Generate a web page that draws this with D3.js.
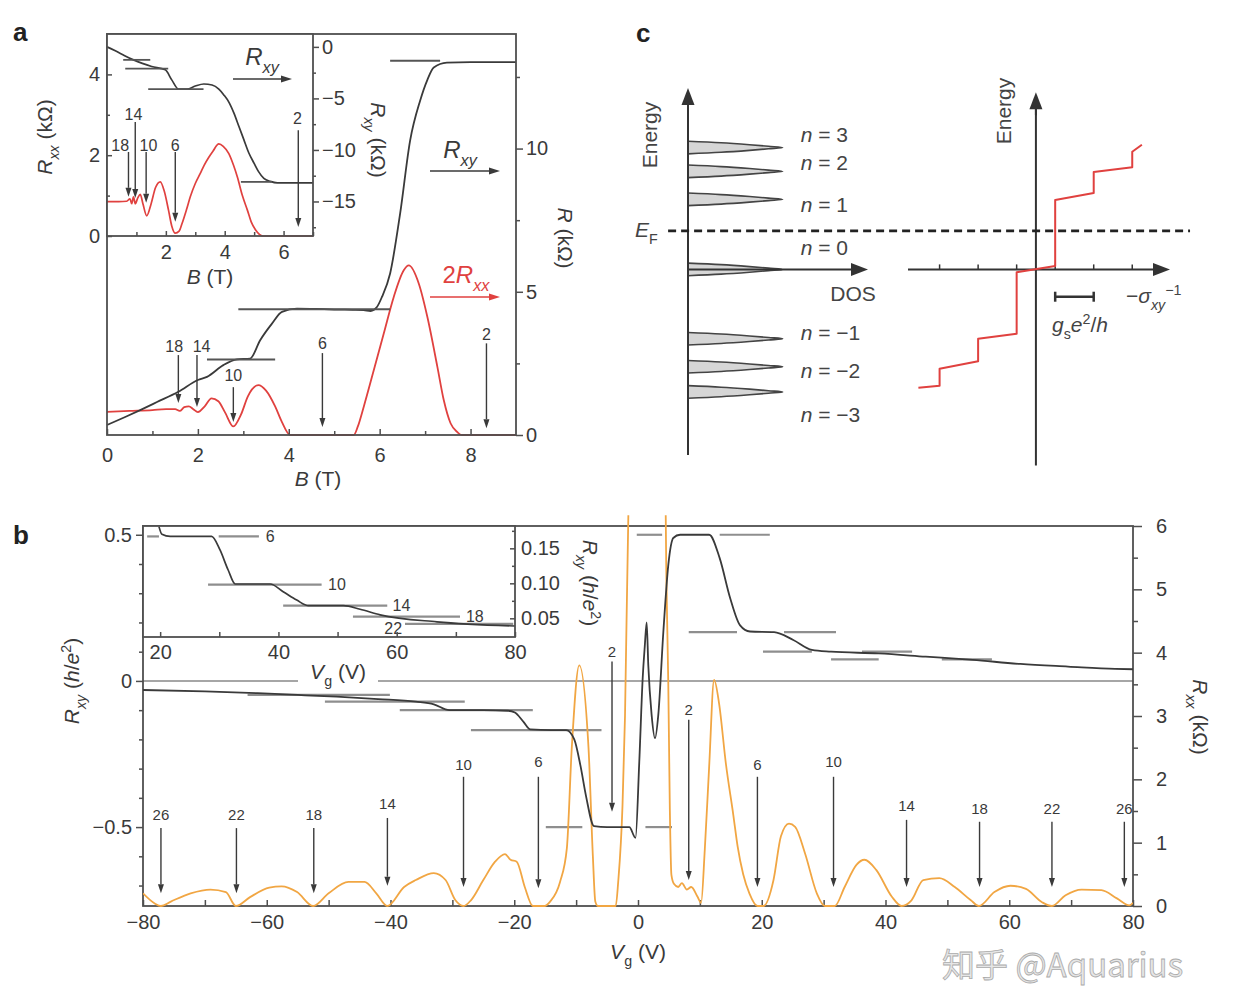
<!DOCTYPE html>
<html>
<head>
<meta charset="utf-8">
<title>Graphene quantum Hall</title>
<script src="https://cdn.jsdelivr.net/npm/d3@7/dist/d3.min.js"></script>
<style>
  html, body { margin: 0; padding: 0; background: #fff; }
  svg { display: block; font-family: "Liberation Sans", Arial, Helvetica, sans-serif; }
</style>
</head>
<body>
<svg id="fig" width="1242" height="996"></svg>
<script>
// ---------------- panel a : R vs B ----------------
// main plot, R_xy (kOhm)
var aB_xy = [0, 0.4, 0.73, 1.1, 1.57, 2.0, 2.2, 2.56, 2.86, 3.15, 3.37, 3.63, 3.85, 4.18, 4.6, 5.0, 5.4, 5.65, 5.8, 5.94, 6.05, 6.23, 6.45, 6.67, 6.89, 7.05, 7.19, 7.48, 8.0, 8.5, 9.0];
var aRxy = [0.35, 0.63, 0.87, 1.15, 1.51, 1.92, 2.03, 2.44, 2.64, 2.67, 3.31, 3.89, 4.3, 4.41, 4.4, 4.38, 4.37, 4.36, 4.33, 4.47, 4.82, 5.64, 7.73, 10.28, 11.67, 12.4, 12.83, 13.0, 13.02, 13.02, 13.02];
// main plot, 2R_xx (kOhm)
var aB_xx = [0, 0.5, 1.0, 1.3, 1.5, 1.6, 1.7, 1.8, 1.9, 2.0, 2.15, 2.3, 2.45, 2.6, 2.78, 2.95, 3.1, 3.33, 3.5, 3.7, 3.85, 4.03, 4.5, 5.0, 5.43, 5.52, 5.65, 5.87, 6.09, 6.31, 6.53, 6.64, 6.86, 7.05, 7.27, 7.41, 7.56, 7.71, 7.8, 8.5, 9.0];
var a2Rxx = [0.81, 0.84, 0.87, 0.9, 0.9, 0.84, 0.97, 1.0, 0.9, 0.8, 1.0, 1.28, 1.18, 0.78, 0.3, 0.72, 1.35, 1.74, 1.55, 1.0, 0.45, 0, 0, 0, 0, 0.3, 0.99, 2.26, 3.54, 4.82, 5.75, 5.92, 5.29, 4.12, 2.38, 1.22, 0.41, 0.1, 0, 0, 0];
// plateau marks
var aMarkFrom = [2.2, 2.89, 6.23];
var aMarkTo = [3.7, 6.23, 7.33];
var aMarkR = [2.64, 4.39, 13.07];
// filling factor arrows
var aArrLabel = ["18", "14", "10", "6", "2"];
var aArrB = [1.57, 1.98, 2.78, 4.74, 8.35];
var aArrTxtB = [1.48, 2.08, 2.78, 4.74, 8.35];
var aArrTxt = [3.1, 3.1, 2.09, 3.21, 3.52];
var aArrTop = [2.79, 2.79, 1.67, 2.86, 3.2];
var aArrBot = [1.12, 0.98, 0.45, 0.28, 0.24];

// inset, R_xy (kOhm, negative)
var aiB_xy = [0, 0.3, 0.6, 0.9, 1.2, 1.52, 1.98, 2.2, 2.43, 2.72, 3.0, 3.29, 3.57, 3.8, 3.97, 4.15, 4.31, 4.48, 4.65, 4.82, 5.0, 5.15, 5.33, 5.55, 5.79, 6.2, 7.0];
var aiRxy = [0, -0.4, -0.85, -1.26, -1.6, -1.9, -2.23, -3.2, -4.1, -4.1, -3.8, -3.6, -3.7, -4.1, -4.66, -5.4, -6.4, -7.7, -9.0, -10.3, -11.3, -12.1, -12.75, -13.05, -13.2, -13.2, -13.2];
// inset, R_xx (kOhm)
var aiB_xx = [0, 0.4, 0.67, 0.78, 0.84, 0.9, 0.96, 1.05, 1.13, 1.22, 1.35, 1.5, 1.65, 1.81, 1.95, 2.09, 2.2, 2.32, 2.45, 2.55, 2.7, 2.83, 3.0, 3.17, 3.3, 3.46, 3.6, 3.8, 3.95, 4.14, 4.3, 4.43, 4.6, 4.77, 4.9, 5.05, 5.3, 6.0, 7.0];
var aiRxx = [0.85, 0.85, 0.86, 0.92, 0.8, 0.97, 0.8, 0.95, 1.03, 0.8, 0.5, 0.8, 1.2, 1.34, 1.1, 0.64, 0.25, 0.07, 0.12, 0.31, 0.65, 0.97, 1.3, 1.55, 1.75, 1.95, 2.1, 2.28, 2.22, 2.04, 1.75, 1.46, 1.0, 0.64, 0.35, 0.15, 0, 0, 0];
var aiMarkFrom = [0.55, 0.62, 1.4, 4.55];
var aiMarkTo = [1.47, 2.08, 3.28, 5.6];
var aiMarkR = [-1.26, -2.1, -4.1, -13.1];
var aiArrLabel = ["18", "14", "10", "6", "2"];
var aiArrB = [0.73, 0.96, 1.33, 2.32, 6.5];
var aiArrTxtB = [0.45, 0.9, 1.41, 2.32, 6.47];
var aiArrTxt = [2.25, 3.0, 2.25, 2.25, 2.92];
var aiArrTop = [2.08, 2.82, 2.08, 2.08, 2.62];
var aiArrBot = [0.97, 0.94, 0.82, 0.35, 0.22];

// ---------------- panel b : R vs Vg ----------------
var bVg_xy = [-80, -70, -61.5, -55, -48.7, -42, -35.9, -33, -30.5, -25, -21, -19.9, -18.5, -17.4, -14, -11.6, -10.3, -9.3, -8.4, -7.1, -5, -1.4, -0.4, 0.2, 0.76, 1.1, 1.4, 1.66, 2.2, 2.75, 3.28, 4.1, 4.9, 5.7, 6.8, 11.5, 13.2, 14.9, 16.5, 18.1, 22, 25.1, 28.1, 31.2, 38.9, 46.5, 54.1, 61.8, 69.5, 77.1, 80];
var bRxy = [-0.031, -0.036, -0.042, -0.048, -0.054, -0.062, -0.071, -0.08, -0.1, -0.1, -0.102, -0.108, -0.14, -0.166, -0.168, -0.168, -0.2, -0.29, -0.394, -0.497, -0.5, -0.5, -0.537, -0.28, 0.01, 0.12, 0.2, 0.055, -0.116, -0.196, -0.116, 0.169, 0.397, 0.489, 0.5, 0.5, 0.42, 0.283, 0.19, 0.169, 0.167, 0.14, 0.106, 0.1, 0.094, 0.083, 0.072, 0.058, 0.049, 0.041, 0.04];
var bVg_xx = [-80, -78.1, -77.1, -75.5, -72.3, -69.1, -66.6, -65, -62.7, -59.6, -57.6, -55.1, -52.5, -50, -46.8, -44.2, -42.3, -40.5, -37.8, -35.9, -33, -31.1, -29.5, -28.2, -27, -25, -23.1, -21.5, -20.6, -19.6, -18.3, -17, -15.1, -14.2, -12.6, -11.5, -10.7, -9.5, -8, -7.3, -6.9, -6.5, -3.6, -3.2, -2.5, -2.1, -1.56, -1.2, 1.5, 4.35, 4.6, 4.89, 5.15, 5.4, 5.8, 6.5, 7.1, 7.9, 8.6, 9.6, 10.2, 10.8, 11.5, 12.3, 13.1, 14.2, 15.4, 16.1, 17, 18, 19.3, 20.3, 21.9, 23.1, 24.4, 25.4, 27, 28.9, 30.2, 31.8, 33.4, 35.3, 36.6, 38.5, 41, 42.6, 44.2, 46.1, 48.7, 51.2, 53.8, 55.1, 57.6, 60.2, 62.7, 65.3, 66.9, 69.1, 71.7, 74.9, 77.4, 79.4, 80];
var bRxx = [0.2, 0.04, 0, 0.07, 0.2, 0.26, 0.22, 0, 0.14, 0.29, 0.31, 0.22, 0, 0.2, 0.38, 0.38, 0.2, 0, 0.3, 0.41, 0.52, 0.41, 0.09, 0, 0.09, 0.41, 0.7, 0.82, 0.73, 0.7, 0.3, 0, 0, 0.07, 0.38, 0.91, 2.5, 3.8, 2.5, 0.8, 0.07, 0, 0, 0.38, 1.6, 3.0, 6.17, 7.0, 8.0, 7.0, 5.1, 3.54, 1.5, 0.49, 0.35, 0.3, 0.36, 0.26, 0.3, 0.15, 0.05, 0.9, 2.2, 3.57, 3.2, 2.25, 1.44, 0.94, 0.5, 0.2, 0, 0, 0.41, 1.1, 1.3, 1.25, 0.83, 0.2, 0, 0, 0.3, 0.65, 0.73, 0.57, 0.15, 0, 0.09, 0.41, 0.44, 0.3, 0.09, 0, 0.22, 0.32, 0.27, 0.06, 0, 0.17, 0.26, 0.25, 0.12, 0.01, 0.05];
var bMarkFrom = [-63.1, -50.6, -38.5, -27, -14.9, 1.2, -0.2, 13.2, 8.2, 23.6, 20.2, 36.2, 31.2, 49.1];
var bMarkTo = [-40.1, -28, -17, -5.9, -9.0, 5.5, 3.9, 21.3, 16, 32, 28.1, 44.3, 38.9, 57.2];
var bMarkR = [-0.048, -0.071, -0.1, -0.168, -0.5, -0.5, 0.5, 0.5, 0.167, 0.167, 0.1, 0.1, 0.074, 0.074];
var bArrLabel = ["26", "22", "18", "14", "10", "6", "2", "2", "6", "10", "14", "18", "22", "26"];
var bArrVg = [-77.1, -64.9, -52.4, -40.5, -28.2, -16.1, -4.2, 8.2, 19.3, 31.6, 43.4, 55.2, 66.9, 78.6];
var bArrTxt = [1.44, 1.44, 1.44, 1.61, 2.23, 2.27, 4.02, 3.1, 2.23, 2.27, 1.58, 1.53, 1.53, 1.53];
var bArrTop = [1.23, 1.23, 1.23, 1.39, 2.04, 2.04, 3.86, 2.94, 2.04, 2.04, 1.36, 1.33, 1.33, 1.33];
var bArrBot = [0.2, 0.2, 0.2, 0.32, 0.3, 0.28, 1.49, 0.41, 0.3, 0.3, 0.3, 0.3, 0.3, 0.3];
// inset of b
var biVg = [19.8, 20.3, 21.7, 28.7, 30.1, 31.5, 32.7, 38.6, 40.8, 43.1, 45.1, 51, 53.8, 57.2, 66.8, 80];
var biRxy = [0.181, 0.17, 0.167, 0.167, 0.148, 0.119, 0.099, 0.099, 0.088, 0.076, 0.068, 0.068, 0.063, 0.055, 0.045, 0.039];
var biMarkFrom = [17.8, 29.9, 28.1, 40.8, 52.6, 61.4];
var biMarkTo = [19.8, 36.7, 47.3, 58.4, 70.7, 79.7];
var biMarkR = [0.167, 0.167, 0.098, 0.068, 0.0524, 0.042];
var biLabText = ["6", "10", "14", "18", "22"];
var biLabVg = [38.6, 49.9, 60.8, 73.2, 59.4];
var biLabR = [0.167, 0.098, 0.068, 0.0524, 0.036];

// ---------------- panel c : schematic ----------------
var cLevelN = ["3", "2", "1", "0", "\u22121", "\u22122", "\u22123"];
var cLevelE = [1.74, 1.40, 1.0, 0, -0.99, -1.39, -1.75];
var cLabelE = [1.92, 1.52, 0.92, 0.31, -0.91, -1.45, -2.08];
var cPeakDos = [0, 0.35, 0.65, 0.85, 1.0, 0.85, 0.65, 0.35, 0];
var cPeakDE = [0.09, 0.068, 0.04, 0.018, 0, -0.018, -0.04, -0.068, -0.09];
var cStairSig = [-3.05, -2.5, -2.5, -1.5, -1.5, -0.5, -0.5, 0.5, 0.5, 1.5, 1.5, 2.5, 2.5, 2.75];
var cStairE = [-1.69, -1.66, -1.42, -1.31, -0.99, -0.92, -0.04, 0.05, 0.99, 1.09, 1.39, 1.46, 1.68, 1.78];
var cSigTicks = [-2.5, -1.5, -0.5, 0.5, 1.5, 2.5];
var cEF = 0.55;

// ---------------- drawing ----------------
var ink = "#3a3a3a", axisCol = "#4f4f4f", red = "#e0413f", orange = "#f1a643", markCol = "#8e8e8e";
var svg = d3.select("#fig");
svg.append("rect").attr("width", 1242).attr("height", 996).attr("fill", "#fff");

// text with italic / sub / superscript pieces
function rich(g, x, y, parts, o) {
  o = o || {};
  var fs = o.size || 20;
  var t = g.append("text")
    .attr("transform", "translate(" + x + "," + y + ")" + (o.rotate ? " rotate(" + o.rotate + ")" : ""))
    .attr("y", fs * 0.35)
    .attr("text-anchor", o.anchor || "middle")
    .attr("fill", o.fill || ink)
    .style("font-size", fs + "px");
  var cur = 0;
  parts.forEach(function (p) {
    var f = p[1] || "";
    var off = f.indexOf("_") >= 0 ? fs * 0.3 : (f.indexOf("^") >= 0 ? -fs * 0.42 : 0);
    var s = t.append("tspan").text(p[0]).attr("dy", off - cur);
    if (f.indexOf("i") >= 0) s.style("font-style", "italic");
    if (off !== 0) s.style("font-size", (fs * 0.68) + "px");
    cur = off;
  });
  return t;
}

function arrow(g, x1, y1, x2, y2, col, hl, hw, sw) {
  var a = Math.atan2(y2 - y1, x2 - x1);
  var bx = x2 - hl * Math.cos(a), by = y2 - hl * Math.sin(a);
  var px = -Math.sin(a) * hw / 2, py = Math.cos(a) * hw / 2;
  g.append("line").attr("x1", x1).attr("y1", y1).attr("x2", bx).attr("y2", by)
    .attr("stroke", col).attr("stroke-width", sw || 1.5);
  g.append("path").attr("d", "M" + x2 + "," + y2 + "L" + (bx + px) + "," + (by + py) + "L" + (bx - px) + "," + (by - py) + "Z")
    .attr("fill", col);
}

function drawAxis(g, gen, tx, ty, fs) {
  var a = g.append("g").attr("transform", "translate(" + tx + "," + ty + ")").call(gen);
  a.attr("font-family", null).attr("font-size", null);
  a.select(".domain").remove();
  a.selectAll(".tick line").attr("stroke", axisCol).attr("stroke-width", 1.5);
  a.selectAll(".tick text").attr("fill", ink).style("font-size", (fs || 20) + "px");
  return a;
}

function trace(g, xs, ys, sx, sy, col, w, curve) {
  return g.append("path").datum(d3.zip(xs, ys))
    .attr("d", d3.line().x(function (d) { return sx(d[0]); }).y(function (d) { return sy(d[1]); })
      .curve(curve || d3.curveMonotoneX))
    .attr("fill", "none").attr("stroke", col).attr("stroke-width", w || 1.8)
    .attr("stroke-linejoin", "round");
}

function marks(g, from, to, val, sx, sy, col, w) {
  g.selectAll(null).data(d3.range(from.length)).enter().append("line")
    .attr("x1", function (i) { return sx(from[i]); })
    .attr("x2", function (i) { return sx(to[i]); })
    .attr("y1", function (i) { return sy(val[i]); })
    .attr("y2", function (i) { return sy(val[i]); })
    .attr("stroke", col).attr("stroke-width", w || 2);
}

function nArrows(g, labels, xs, txt, top, bot, sx, sy, fs, txtX) {
  labels.forEach(function (lab, i) {
    arrow(g, sx(xs[i]), sy(top[i]), sx(xs[i]), sy(bot[i]), ink, 9, 6, 1.4);
    g.append("text").attr("x", sx(txtX ? txtX[i] : xs[i])).attr("y", sy(txt[i]) + fs * 0.35)
      .attr("text-anchor", "middle").attr("fill", ink).style("font-size", fs + "px").text(lab);
  });
}

function frame(g, x0, y0, x1, y1, fill) {
  g.append("rect").attr("x", x0).attr("y", y0).attr("width", x1 - x0).attr("height", y1 - y0)
    .attr("fill", fill || "none").attr("stroke", fill ? "none" : axisCol).attr("stroke-width", 1.8);
}

function neg(d) { return d === 0 ? "0" : d3.format("d")(d); }

// ===== panel a =====
var gA = svg.append("g");
var xA = d3.scaleLinear().domain([0, 9]).range([107, 516]);
var yA = d3.scaleLinear().domain([0, 14]).range([435, 34]);

trace(gA, aB_xx, a2Rxx, xA, yA, red, 1.8);
trace(gA, aB_xy, aRxy, xA, yA, ink, 1.8);
marks(gA, aMarkFrom, aMarkTo, aMarkR, xA, yA, "#555", 2);
drawAxis(gA, d3.axisBottom(xA).tickValues([0, 2, 4, 6, 8]).tickSize(-6).tickPadding(13).tickFormat(d3.format("d")), 0, yA(0));
drawAxis(gA, d3.axisBottom(xA).tickValues([1, 3, 5, 7]).tickSize(-4).tickFormat(""), 0, yA(0));
drawAxis(gA, d3.axisRight(yA).tickValues([0, 5, 10]).tickSize(7).tickPadding(3).tickFormat(d3.format("d")), xA(9), 0);
drawAxis(gA, d3.axisRight(yA).tickValues([2.5, 7.5, 12.5]).tickSize(4).tickFormat(""), xA(9), 0);
frame(gA, xA(0), yA(14), xA(9), yA(0));
nArrows(gA, aArrLabel, aArrB, aArrTxt, aArrTop, aArrBot, xA, yA, 16, aArrTxtB);

rich(gA, 460, 150, [["R", "i"], ["xy", "i_"]], { size: 24 });
arrow(gA, 430, 171, 500, 171, ink, 11, 7, 1.6);
rich(gA, 466, 275, [["2"], ["R", "i"], ["xx", "i_"]], { size: 24, fill: red });
arrow(gA, 430, 297, 500, 297, red, 11, 7, 1.6);
rich(gA, 318, 479, [["B", "i"], [" (T)"]], { size: 21 });
rich(gA, 565, 238, [["R", "i"], [" (k\u03a9)"]], { size: 21, rotate: 90 });

// inset of a
var xAi = d3.scaleLinear().domain([0, 7]).range([107, 313]);
var yAiL = d3.scaleLinear().domain([0, 5]).range([236, 34]);
var yAiR = d3.scaleLinear().domain([-18.35, 1.25]).range([236, 34]);
frame(gA, xAi(0), yAiL(5), xAi(7), yAiL(0), "#fff");
trace(gA, aiB_xx, aiRxx, xAi, yAiL, red, 1.7);
trace(gA, aiB_xy, aiRxy, xAi, yAiR, ink, 1.7);
marks(gA, aiMarkFrom, aiMarkTo, aiMarkR, xAi, yAiR, "#555", 1.8);
drawAxis(gA, d3.axisBottom(xAi).tickValues([2, 4, 6]).tickSize(-5).tickPadding(9).tickFormat(d3.format("d")), 0, yAiL(0));
drawAxis(gA, d3.axisBottom(xAi).tickValues([1, 3, 5, 7]).tickSize(-4).tickFormat(""), 0, yAiL(0));
drawAxis(gA, d3.axisLeft(yAiL).tickValues([0, 2, 4]).tickSize(-5).tickPadding(7).tickFormat(d3.format("d")), xAi(0), 0);
drawAxis(gA, d3.axisLeft(yAiL).tickValues([1, 3]).tickSize(-3).tickFormat(""), xAi(0), 0);
drawAxis(gA, d3.axisRight(yAiR).tickValues([0, -5, -10, -15]).tickSize(6).tickPadding(3).tickFormat(neg), xAi(7), 0);
drawAxis(gA, d3.axisRight(yAiR).tickValues([-2.5, -7.5, -12.5, -17.5]).tickSize(3).tickFormat(""), xAi(7), 0);
frame(gA, xAi(0), yAiL(5), xAi(7), yAiL(0));
nArrows(gA, aiArrLabel, aiArrB, aiArrTxt, aiArrTop, aiArrBot, xAi, yAiL, 16, aiArrTxtB);
rich(gA, 262, 57, [["R", "i"], ["xy", "i_"]], { size: 24 });
arrow(gA, 233, 79, 292, 79, ink, 11, 7, 1.6);
rich(gA, 45, 137, [["R", "i"], ["xx", "i_"], [" (k\u03a9)"]], { size: 21, rotate: -90 });
rich(gA, 378, 140, [["R", "i"], ["xy", "i_"], [" (k\u03a9)"]], { size: 21, rotate: 90 });
rich(gA, 210, 277, [["B", "i"], [" (T)"]], { size: 21 });

// ===== panel b =====
var gB = svg.append("g");
var xB = d3.scaleLinear().domain([-80, 80]).range([143, 1133]);
var yBL = d3.scaleLinear().domain([-0.77, 0.53]).range([906, 526]);
var yBR = d3.scaleLinear().domain([0, 6]).range([906, 526]);

svg.append("defs").append("clipPath").attr("id", "clipB")
  .append("rect").attr("x", xB(-80)).attr("y", yBR(6.17)).attr("width", xB(80) - xB(-80)).attr("height", yBR(0) - yBR(6.17) + 2);

gB.append("line").attr("x1", xB(-80)).attr("x2", xB(80)).attr("y1", yBL(0)).attr("y2", yBL(0))
  .attr("stroke", "#a6a6a6").attr("stroke-width", 2);
marks(gB, bMarkFrom, bMarkTo, bMarkR, xB, yBL, markCol, 2.2);

drawAxis(gB, d3.axisBottom(xB).tickValues(d3.range(-80, 81, 20)).tickSize(-6).tickPadding(9).tickFormat(d3.format("d")), 0, yBR(0));
drawAxis(gB, d3.axisBottom(xB).tickValues(d3.range(-70, 80, 20)).tickSize(-6).tickFormat(""), 0, yBR(0));
drawAxis(gB, d3.axisLeft(yBL).tickValues([0.5, 0, -0.5]).tickSize(7).tickPadding(4)
  .tickFormat(function (d) { return d === 0 ? "0" : d3.format(".1f")(d); }), xB(-80), 0);
drawAxis(gB, d3.axisLeft(yBL).tickValues([0.4, 0.3, 0.2, 0.1, -0.1, -0.2, -0.3, -0.4, -0.6, -0.7]).tickSize(4).tickFormat(""), xB(-80), 0);
drawAxis(gB, d3.axisRight(yBR).tickValues([0, 1, 2, 3, 4, 5, 6]).tickSize(9).tickPadding(14).tickFormat(d3.format("d")), xB(80), 0);
drawAxis(gB, d3.axisRight(yBR).tickValues([0.5, 1.5, 2.5, 3.5, 4.5, 5.5]).tickSize(5).tickFormat(""), xB(80), 0);
frame(gB, xB(-80), yBR(6), xB(80), yBR(0));

var gBc = gB.append("g").attr("clip-path", "url(#clipB)");
trace(gBc, bVg_xx, bRxx, xB, yBR, orange, 1.8);
trace(gBc, bVg_xy, bRxy, xB, yBL, ink, 1.8);
nArrows(gB, bArrLabel, bArrVg, bArrTxt, bArrTop, bArrBot, xB, yBR, 15);

rich(gB, 72, 681, [["R", "i"], ["xy", "i_"], [" ("], ["h", "i"], ["/"], ["e", "i"], ["2", "^"], [")"]], { size: 21, rotate: -90 });
rich(gB, 1200, 717, [["R", "i"], ["xx", "i_"], [" (k\u03a9)"]], { size: 21, rotate: 90 });
rich(gB, 638, 952, [["V", "i"], ["g", "_"], [" (V)"]], { size: 21 });

// inset of b
var xBi = d3.scaleLinear().domain([17.1, 80]).range([143, 515]);
var yBi = d3.scaleLinear().domain([0.0233, 0.1819]).range([637, 526]);
frame(gB, xBi(17.1), yBi(0.1819), xBi(80), yBi(0.0233), "#fff");
marks(gB, biMarkFrom, biMarkTo, biMarkR, xBi, yBi, markCol, 2.2);
trace(gB, biVg, biRxy, xBi, yBi, ink, 1.7);
biLabText.forEach(function (t, i) {
  gB.append("text").attr("x", xBi(biLabVg[i])).attr("y", yBi(biLabR[i]) + 5.6)
    .attr("text-anchor", "middle").attr("fill", ink).style("font-size", "16px").text(t);
});
drawAxis(gB, d3.axisBottom(xBi).tickValues([20, 40, 60, 80]).tickSize(-5).tickPadding(8).tickFormat(d3.format("d")), 0, yBi(0.0233));
drawAxis(gB, d3.axisBottom(xBi).tickValues([30, 50, 70]).tickSize(-5).tickFormat(""), 0, yBi(0.0233));
drawAxis(gB, d3.axisRight(yBi).tickValues([0.05, 0.1, 0.15]).tickSize(-5).tickPadding(6).tickFormat(d3.format(".2f")), xBi(80), 0);
drawAxis(gB, d3.axisRight(yBi).tickValues([0.075, 0.125, 0.175]).tickSize(-3).tickFormat(""), xBi(80), 0);
frame(gB, xBi(17.1), yBi(0.1819), xBi(80), yBi(0.0233));
gB.append("rect").attr("x", 298).attr("y", 661).attr("width", 80).attr("height", 26).attr("fill", "#fff");
rich(gB, 338, 672, [["V", "i"], ["g", "_"], [" (V)"]], { size: 21 });
rich(gB, 590, 583, [["R", "i"], ["xy", "i_"], [" ("], ["h", "i"], ["/"], ["e", "i"], ["2", "^"], [")"]], { size: 21, rotate: 90 });

// ===== panel c =====
var gC = svg.append("g");
var yC = d3.scaleLinear().domain([-2.65, 2.59]).range([455, 88]);
var xD = d3.scaleLinear().domain([0, 1.9]).range([688, 868]);
var xS = d3.scaleLinear().domain([-3.32, 3.48]).range([908, 1170]);
var cInk = "#333";

// Landau level peaks in the DOS
cLevelE.forEach(function (e) {
  gC.append("path").datum(d3.zip(cPeakDos, cPeakDE))
    .attr("d", d3.line().x(function (d) { return xD(d[0]); }).y(function (d) { return yC(e + d[1]); }).curve(d3.curveCatmullRom))
    .attr("fill", "#d6d6d6").attr("stroke", "#444").attr("stroke-width", 1.6);
});
// DOS axes
gC.append("line").attr("x1", xD(0)).attr("x2", xD(0)).attr("y1", yC(-2.65)).attr("y2", yC(2.4)).attr("stroke", cInk).attr("stroke-width", 2);
arrow(gC, xD(0), yC(2.3), xD(0), yC(2.59), cInk, 17, 13, 2);
arrow(gC, xD(0), yC(0), xD(1.9), yC(0), cInk, 17, 13, 2);

// sigma_xy staircase
gC.append("line").attr("x1", xS(0)).attr("x2", xS(0)).attr("y1", yC(-2.8)).attr("y2", yC(2.3)).attr("stroke", cInk).attr("stroke-width", 2);
arrow(gC, xS(0), yC(2.2), xS(0), yC(2.53), cInk, 17, 13, 2);
arrow(gC, xS(-3.32), yC(0), xS(3.48), yC(0), cInk, 17, 13, 2);
gC.selectAll(null).data(cSigTicks).enter().append("line")
  .attr("x1", function (d) { return xS(d); }).attr("x2", function (d) { return xS(d); })
  .attr("y1", yC(0) - 5).attr("y2", yC(0)).attr("stroke", cInk).attr("stroke-width", 1.5);
trace(gC, cStairSig, cStairE, xS, yC, red, 2, d3.curveLinear);

// Fermi level
gC.append("line").attr("x1", xD(-0.21)).attr("x2", xS(4.0)).attr("y1", yC(cEF)).attr("y2", yC(cEF))
  .attr("stroke", "#222").attr("stroke-width", 2.6).attr("stroke-dasharray", "8,5");

// scale bar g_s e^2/h (one unit of sigma)
gC.append("line").attr("x1", xS(0.5)).attr("x2", xS(1.5)).attr("y1", yC(-0.39)).attr("y2", yC(-0.39)).attr("stroke", cInk).attr("stroke-width", 2.5);
[0.5, 1.5].forEach(function (s) {
  gC.append("line").attr("x1", xS(s)).attr("x2", xS(s)).attr("y1", yC(-0.39) - 5).attr("y2", yC(-0.39) + 5).attr("stroke", cInk).attr("stroke-width", 2.5);
});

cLevelN.forEach(function (n, i) {
  rich(gC, xD(1.19), yC(cLabelE[i]), [["n", "i"], [" = " + n]], { size: 21, anchor: "start", fill: "#444" });
});
rich(gC, 853, 294, [["DOS"]], { size: 21, fill: "#444" });
rich(gC, 650, 135, [["Energy"]], { size: 21, rotate: -90, fill: "#444" });
rich(gC, 1004, 111, [["Energy"]], { size: 21, rotate: -90, fill: "#444" });
rich(gC, 635, 230, [["E", "i"], ["F", "_"]], { size: 21, anchor: "start", fill: "#444" });
rich(gC, 1080, 325, [["g", "i"], ["s", "_"], ["e", "i"], ["2", "^"], ["/"], ["h", "i"]], { size: 21, fill: "#444" });
rich(gC, 1126, 296, [["\u2212"], ["\u03c3", "i"], ["xy", "i_"], ["\u22121", "^"]], { size: 21, anchor: "start", fill: "#444" });

// panel letters
[["a", 13, 41], ["b", 13, 544], ["c", 636, 42]].forEach(function (p) {
  svg.append("text").attr("x", p[1]).attr("y", p[2]).attr("fill", "#222")
    .style("font-size", "26px").style("font-weight", "bold").text(p[0]);
});

// watermark
svg.append("text").attr("x", 942).attr("y", 977)
  .style("font-family", "'Noto Sans CJK SC', 'Noto Sans', sans-serif").style("font-size", "33px")
  .attr("fill", "#e6e6e6").attr("stroke", "#ababab").attr("stroke-width", 0.8)
  .text("\u77e5\u4e4e @Aquarius");
</script>
</body>
</html>
